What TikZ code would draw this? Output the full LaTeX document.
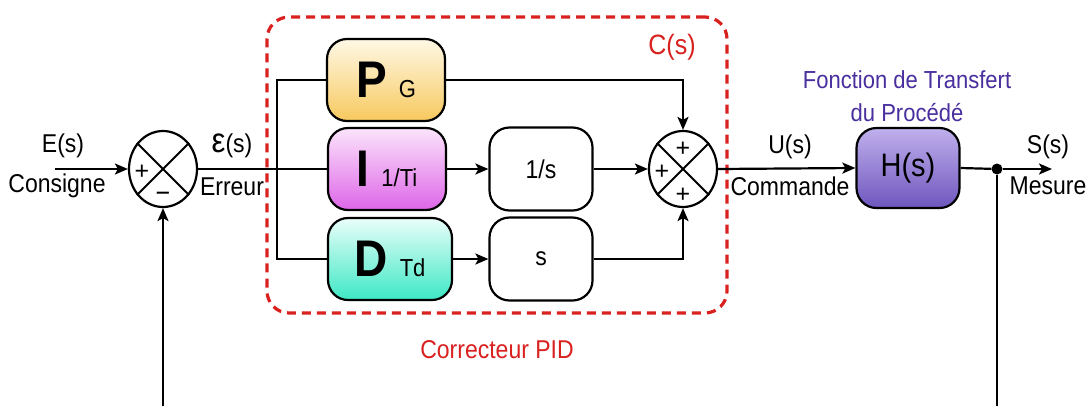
\documentclass[tikz,border=0pt]{standalone}
\usepackage{graphicx}
\usepackage{fontspec}
\setmainfont{Liberation Sans}
\usetikzlibrary{arrows.meta,shapes.geometric}
\definecolor{pidred}{HTML}{D9211F}
\definecolor{hviolet}{HTML}{4A2F9E}
\definecolor{pTop}{HTML}{FFF8E6}
\definecolor{pBot}{HTML}{F7C95E}
\definecolor{iTop}{HTML}{FBE4FB}
\definecolor{iBot}{HTML}{DE66E8}
\definecolor{dTop}{HTML}{EAFEF9}
\definecolor{dBot}{HTML}{3DE8C5}
\definecolor{hTop}{HTML}{C0B0EC}
\definecolor{hBot}{HTML}{6E56BE}
\newcommand\vstr[1]{\scalebox{1}[1.12]{#1}}
\begin{document}
\begin{tikzpicture}[x=1pt,y=-1pt,
  wire/.style={line width=2.2pt,black},
  arr/.style={wire,-{Stealth[length=13pt,width=11pt,inset=3pt]}},
  blk/.style={draw,line width=2.2pt,rounded corners=20pt,minimum width=118pt,minimum height=82pt,inner sep=0pt},
  sumnode/.style={draw,line width=2.2pt,ellipse,minimum width=68pt,minimum height=76pt,inner sep=0pt},
  lbl/.style={font=\fontsize{23}{27}\selectfont,inner sep=0pt},
  sgn/.style={font=\fontsize{25}{25}\selectfont,inner sep=0pt},
]
\useasboundingbox (0,0) rectangle (1089,405);
\fill[white] (0,0) rectangle (1089,405);

% PID dashed frame
\node[draw=pidred,line width=3.2pt,dash pattern=on 9pt off 6pt,rounded corners=22pt,
      minimum width=460pt,minimum height=296pt] (pid) at (497,165) {};
\node[lbl,text=pidred,font=\fontsize{25}{28}\selectfont] (cs) at (672,47) {\vstr{C(s)}};
\node[lbl,text=pidred] (corr) at (497,350) {\vstr{Correcteur PID}};

% summers
\node[sumnode] (s1) at (163,169) {};
\draw[line width=2pt] (s1.45)--(s1.225) (s1.135)--(s1.315);
\node[sgn] (s1a) at (142,172) {+};
\node[sgn] (s1b) at (163,197) {\vstr{−}};

\node[sumnode] (s2) at (683,169) {};
\draw[line width=2pt] (s2.45)--(s2.225) (s2.135)--(s2.315);
\node[sgn] (s2a) at (683,149) {+};
\node[sgn] (s2b) at (662,172) {+};
\node[sgn] (s2c) at (683,195) {+};

% PID blocks
\node[blk,top color=pTop,bottom color=pBot] (P) at (386,80)
  {\vstr{{\fontsize{46}{46}\selectfont\bfseries P}\hspace{12pt}{\fontsize{22}{22}\selectfont G}}};
\node[blk,top color=iTop,bottom color=iBot] (I) at (387,169)
  {\vstr{{\fontsize{46}{46}\selectfont\bfseries I}\hspace{12pt}{\fontsize{22}{22}\selectfont 1/Ti}}};
\node[blk,top color=dTop,bottom color=dBot,minimum width=124pt] (D) at (390,259)
  {\vstr{{\fontsize{46}{46}\selectfont\bfseries D}\hspace{12pt}{\fontsize{22}{22}\selectfont Td}}};
\node[blk,fill=white,minimum width=103pt,minimum height=83pt,font=\fontsize{23}{26}\selectfont] (inv) at (541,169) {\vstr{1/s}};
\node[blk,fill=white,minimum width=103pt,minimum height=83pt,font=\fontsize{23}{26}\selectfont] (der) at (541,259) {\vstr{s}};

% process
\node[blk,top color=hTop,bottom color=hBot,minimum width=103pt,minimum height=80pt,
      font=\fontsize{29}{32}\selectfont] (H) at (908,168) {\vstr{H(s)}};
\node[lbl,text=hviolet,align=center,font=\fontsize{22}{33}\selectfont] (ft) at (907,96)
  {\vstr{Fonction de Transfert}\\\vstr{du Procédé}};

% branch point
\node[circle,fill=black,inner sep=0pt,minimum size=11pt] (dot) at (997,169) {};

% labels
\node[lbl] (Es) at (63,146) {\vstr{E(s)}};
\node[lbl] (cons) at (57,186) {\vstr{Consigne}};
\node[lbl] (eps) at (232,146) {\vstr{{\fontsize{31}{31}\selectfont ε}(s)}};
\node[lbl] (err) at (232,187) {\vstr{Erreur}};
\node[lbl] (Us) at (790,147) {\vstr{U(s)}};
\node[lbl] (cmd) at (790,186) {\vstr{Commande}};
\node[lbl] (Ss) at (1048,147) {\vstr{S(s)}};
\node[lbl] (mes) at (1048,186) {\vstr{Mesure}};

% connectors
\coordinate (in) at (55,169);
\coordinate (out) at (1052,169);
\coordinate (bt) at (277,80);
\coordinate (bb) at (277,259);
\coordinate (fb) at (997,425);

\draw[arr] (in) -- (s1.west);
\draw[wire] (s1.east) -- (I.west);
\draw[wire] (P.west) -- (bt) -- (bb) -- (D.west);
\draw[arr] (P.east) -| (s2.north);
\draw[arr] (I.east) -- (inv.west);
\draw[arr] (inv.east) -- (s2.west);
\draw[arr] (D.east) -- (der.west);
\draw[arr] (der.east) -| (s2.south);
\draw[arr] (s2.east) -- (H.west);
\draw[wire] (H.east) -- (dot);
\draw[arr] (dot) -- (out);
\draw[arr] (dot) -- (fb) -| (s1.south);
\end{tikzpicture}
\end{document}
